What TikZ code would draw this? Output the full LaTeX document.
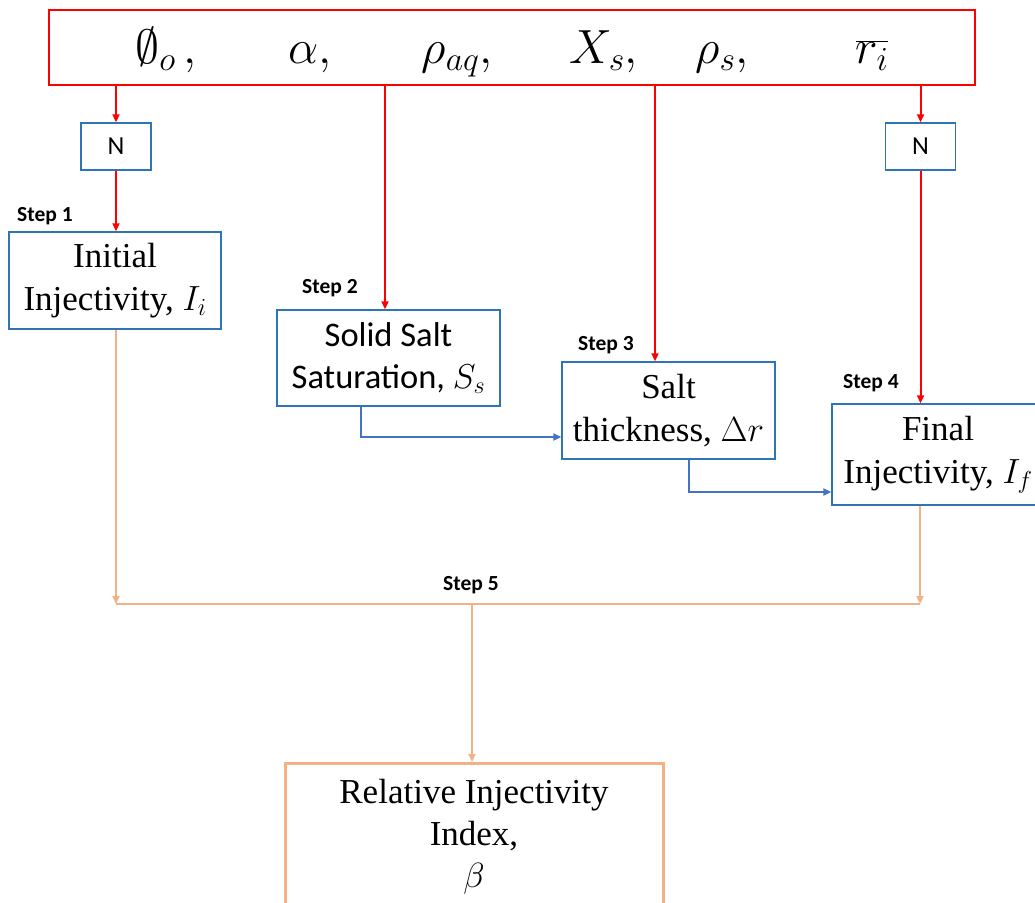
\RequirePackage{fix-cm}
\documentclass[tikz,border=0pt]{standalone}
\usepackage{fontspec}
\setmainfont{Liberation Serif}
\newfontfamily\calibri{Carlito}
\usetikzlibrary{arrows.meta,calc}
\definecolor{boxblue}{HTML}{2E75B6}
\definecolor{lineblue}{HTML}{4472C4}
\definecolor{peach}{HTML}{F4B183}
\definecolor{myred}{HTML}{FF0000}
\tikzset{
  bluebox/.style={draw=boxblue, line width=1.4pt, rectangle, inner sep=0pt, align=center, font=\fontsize{35}{43}\selectfont},
  nbox/.style={draw=boxblue, line width=1.4pt, rectangle, inner sep=0pt, minimum width=70pt, minimum height=47pt, font=\calibri\fontsize{26}{30}\selectfont},
  steplabel/.style={anchor=west, inner sep=0pt, font=\calibri\bfseries\fontsize{21.5}{24}\selectfont},
  topmath/.style={anchor=base, inner sep=0pt, font=\fontsize{48}{54}\selectfont},
  redarr/.style={draw=myred, line width=2pt, -{Triangle[length=8pt,width=7pt]}},
  bluearr/.style={draw=lineblue, line width=2pt, -{Triangle[length=8pt,width=7pt]}},
  peacharr/.style={draw=peach, line width=2pt, -{Triangle[length=8pt,width=7pt]}},
  peachline/.style={draw=peach, line width=2pt},
}
\begin{document}
\begin{tikzpicture}[x=1pt,y=1pt]
\useasboundingbox (0,0) rectangle (1035,-902);
\clip (0,0) rectangle (1035,-902);
% top parameter box
\node[draw=myred, line width=1.2pt, minimum width=926pt, minimum height=75pt, inner sep=0pt] (top) at (512,-47.5) {};
\node[topmath] (p1) at (166,-63) {$\emptyset_o\,,$};
\node[topmath] (p2) at (310,-63) {$\alpha,$};
\node[topmath] (p3) at (457,-63) {$\rho_{aq},$};
\node[topmath] (p4) at (604,-63) {$X_s,$};
\node[topmath] (p5) at (722,-63) {$\rho_s,$};
\node[topmath] (p6) at (872,-63) {$\overline{r_i}$};
% N boxes
\node[nbox] (nL) at (116,-146.5) {N};
\node[nbox] (nR) at (920.5,-146.5) {N};
% step boxes
\node[bluebox, minimum width=212pt, minimum height=97pt] (init) at (115,-280.5) {Initial\\Injectivity, $I_i$};
\node[bluebox, minimum width=223pt, minimum height=96pt, font=\calibri\fontsize{34.5}{42}\selectfont] (solid) at (388.5,-358) {Solid Salt\\Saturation, $S_s$};
\node[bluebox, minimum width=213pt, minimum height=97pt] (salt) at (668.5,-410.5) {Salt\\thickness, $\Delta r$};
\node[bluebox, minimum width=212pt, minimum height=101pt] (final) at (938,-454.5) {Final\\Injectivity, $I_f$};
\node[draw=peach, line width=3pt, anchor=north, minimum width=378pt, minimum height=146pt, inner sep=0pt, align=center, font=\fontsize{35}{42}\selectfont] (rel) at (474,-762) {Relative Injectivity\\Index,\\$\beta$};
% step labels
\node[steplabel] (s1) at (17,-216) {Step 1};
\node[steplabel] (s2) at (302,-288) {Step 2};
\node[steplabel] (s3) at (578,-345) {Step 3};
\node[steplabel] (s4) at (843,-383) {Step 4};
\node[steplabel] (s5) at (443,-585) {Step 5};
% red arrows
\coordinate (a2) at ([xshift=-3.5pt]solid.north);
\coordinate (a3) at ([xshift=-13.5pt]salt.north);
\coordinate (a4) at ([xshift=-18pt]final.north);
\draw[redarr] (top.south -| nL) -- (nL.north);
\draw[redarr] (nL.south) -- (nL.south |- init.north);
\draw[redarr] (top.south -| a2) -- (a2);
\draw[redarr] (top.south -| a3) -- (a3);
\draw[redarr] (top.south -| nR) -- (nR.north);
\draw[redarr] (nR.south) -- (nR.south |- final.north);
% blue connectors
\draw[bluearr] ([xshift=-27.5pt]solid.south) |- ([yshift=-26.5pt]salt.west);
\draw[bluearr] ([xshift=20.5pt]salt.south) |- ([yshift=-37.5pt]final.west);
% peach connectors
\coordinate (j1) at (116,-604);
\coordinate (j2) at (920,-604);
\coordinate (j3) at (472,-604);
\draw[peacharr] ([xshift=1pt]init.south) -- (j1);
\draw[peacharr] ([xshift=-18pt]final.south) -- (j2);
\draw[peachline] (j1) -- (j2);
\draw[peacharr] (j3) -- (j3 |- rel.north);
\end{tikzpicture}
\end{document}
